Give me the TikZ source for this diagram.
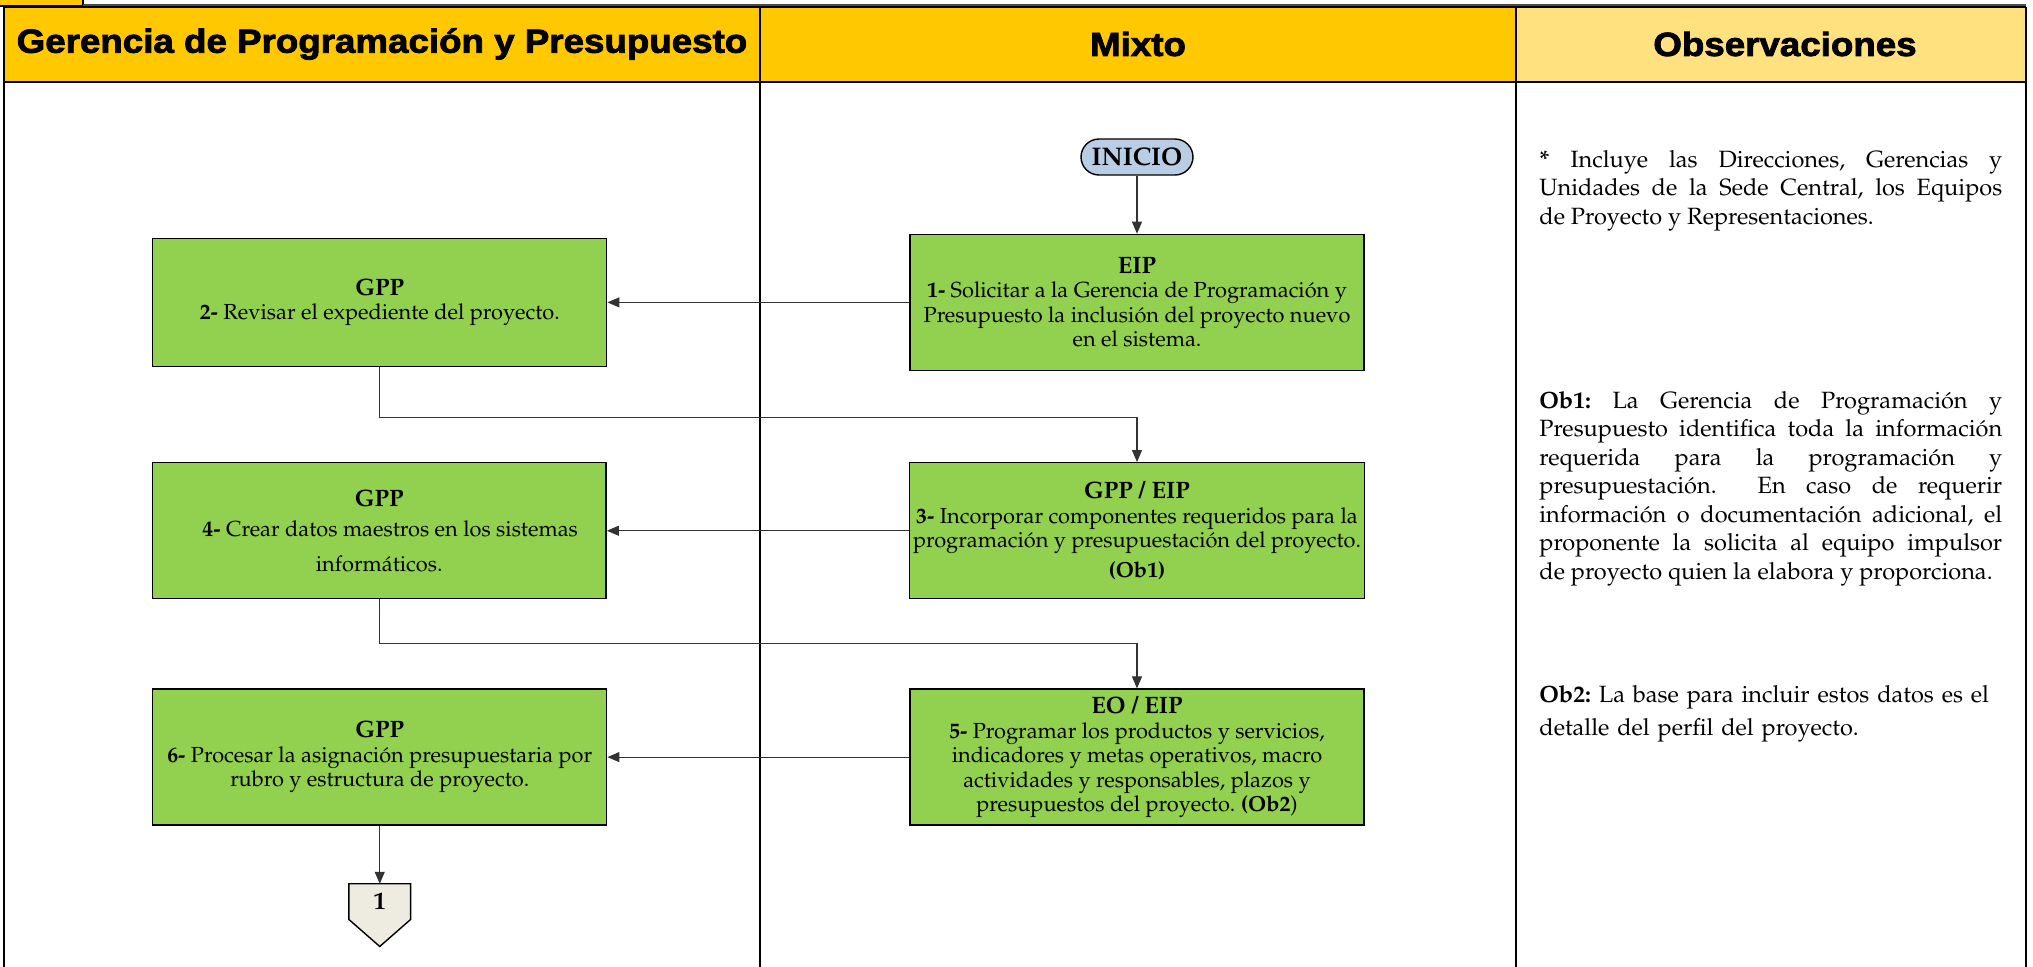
\documentclass[tikz,border=0pt]{standalone}
\usepackage{fontspec}
\usepackage[T1]{fontenc}
\renewcommand{\rmdefault}{ppl}
\newfontfamily\headfont[FakeBold=2.4,FakeStretch=1.1]{Liberation Sans Bold}
\usetikzlibrary{positioning,arrows.meta,backgrounds}
\definecolor{headyel}{HTML}{FFC800}
\definecolor{obsyel}{HTML}{FFE27F}
\definecolor{boxgreen}{HTML}{92D050}
\definecolor{iniblue}{HTML}{B9CDE5}
\definecolor{conbeige}{HTML}{EEECE1}
\newcommand{\boxtitle}[1]{{\fontsize{13.5}{15}\selectfont\bfseries #1}}
\frenchspacing
\tikzset{
  proc/.style={draw, thick, fill=boxgreen, minimum width=9.08cm, minimum height=2.72cm,
    align=center, inner sep=2pt, font=\fontsize{12.4}{14}\selectfont},
  inicio/.style={draw, thick, fill=iniblue, rounded corners=0.36cm, minimum width=2.24cm,
    minimum height=0.72cm, inner sep=1pt, font=\fontsize{14.5}{16}\selectfont\bfseries},
  offpage/.style={minimum width=1.22cm, minimum height=0.7cm, inner sep=0pt,
    font=\fontsize{14}{16}\selectfont\bfseries},
  flow/.style={-{Triangle[length=0.24cm,width=0.2cm]}, draw=black!80, line width=0.6pt},
  lanehead/.style={font=\headfont\fontsize{19}{20}\selectfont},
  obstext/.style={anchor=north west, text width=9.26cm, align=justify, inner sep=0pt,
    font=\fontsize{13.4}{16.2}\selectfont}
}

\begin{document}
\begin{tikzpicture}[x=0.02cm,y=-0.02cm]
  \useasboundingbox (0,0) rectangle (2033,967);
  % cabecera y carriles
  \fill[headyel] (4,7) rectangle (1516,82);
  \fill[obsyel] (1516,7) rectangle (2026,82);
  \filldraw[fill=headyel, draw=black, line width=0.8pt] (-2,-2) rectangle (83,6);
  \draw[black!70, line width=0.6pt] (83,5) -- (2026,5);
  \draw[line width=1pt] (4,7) -- (2026,7);
  \draw[line width=1.6pt] (4,82) -- (2026,82);
  \foreach \x in {4,760,1516,2026}
    \draw[line width=1.4pt] (\x,7) -- (\x,970);

  \node[lanehead] (h1) at (382,44) {Gerencia de Programación y Presupuesto};
  \node[lanehead] (h2) at (1138,44) {Mixto};
  \node[lanehead] (h3) at (1785,44) {Observaciones};

  % flujo
  \node[inicio] (ini) at (1137,157) {INICIO};
  \node[proc] (p1) [below=1.16cm of ini] {\boxtitle{EIP}\\ \textbf{1-} Solicitar a la Gerencia de Programación y\\
    Presupuesto la inclusión del proyecto nuevo\\ en el sistema.};
  \node[proc, minimum height=2.56cm] (p2) [left=6.04cm of p1] {\boxtitle{GPP}\\ \textbf{2-} Revisar el expediente del proyecto.};
  \node[proc] (p3) [below=1.82cm of p1] {\boxtitle{GPP / EIP}\\ \textbf{3-} Incorporar componentes requeridos para la\\
    programación y presupuestación del proyecto.\\[3pt] \textbf{(Ob1)}};
  \node[proc] (p4) [left=6.04cm of p3] {\boxtitle{GPP}\\[3pt] \hspace*{0.44cm}\textbf{4-} Crear datos maestros en los sistemas\\[6pt]
    informáticos.};
  \node[proc] (p5) [below=1.78cm of p3] {\boxtitle{EO / EIP}\\ \textbf{5-} Programar los productos y servicios,\\
    indicadores y metas operativos, macro\\ actividades y responsables, plazos y\\ presupuestos del proyecto. \textbf{(Ob2})};
  \node[proc] (p6) [left=6.04cm of p5] {\boxtitle{GPP}\\ \textbf{6-} Procesar la asignación presupuestaria por\\
    rubro y estructura de proyecto.};
  \node[offpage] (c1) [below=1.16cm of p6] {1};
  \begin{scope}[on background layer]
    \filldraw[fill=conbeige, thick] (c1.north west) -- (c1.north east) -- (c1.south east)
      -- ([yshift=-0.54cm]c1.south) -- (c1.south west) -- cycle;
  \end{scope}

  \draw[flow] (ini) -- (p1);
  \draw[flow] (p1) -- (p2);
  \draw[flow] (p2.south) -- ++(0,50) -| (p3.north);
  \draw[flow] (p3) -- (p4);
  \draw[flow] (p4.south) -- ++(0,44) -| (p5.north);
  \draw[flow] (p5) -- (p6);
  \draw[flow] (p6) -- (c1);

  % observaciones
  \node[obstext] (o1) at (1539,150) {\textbf{*} Incluye las Direcciones, Gerencias y\linebreak
    Unidades de la Sede Central, los Equipos\linebreak de Proyecto y Representaciones.};
  \node[obstext] (o2) at (1539,391) {\textbf{Ob1:} La Gerencia de Programación y\linebreak
    Presupuesto identifica toda la información\linebreak requerida para la programación y\linebreak
    presupuestación.\ \ En caso de requerir\linebreak información o documentación adicional, el\linebreak
    proponente la solicita al equipo impulsor\linebreak de proyecto quien la elabora y proporciona.};
  \node[obstext, align=left, font=\fontsize{13.4}{18.7}\selectfont] (o3) at (1539,685)
    {\textbf{Ob2:} La base para incluir estos datos es el\\ detalle del perfil del proyecto.};
\end{tikzpicture}
\end{document}
